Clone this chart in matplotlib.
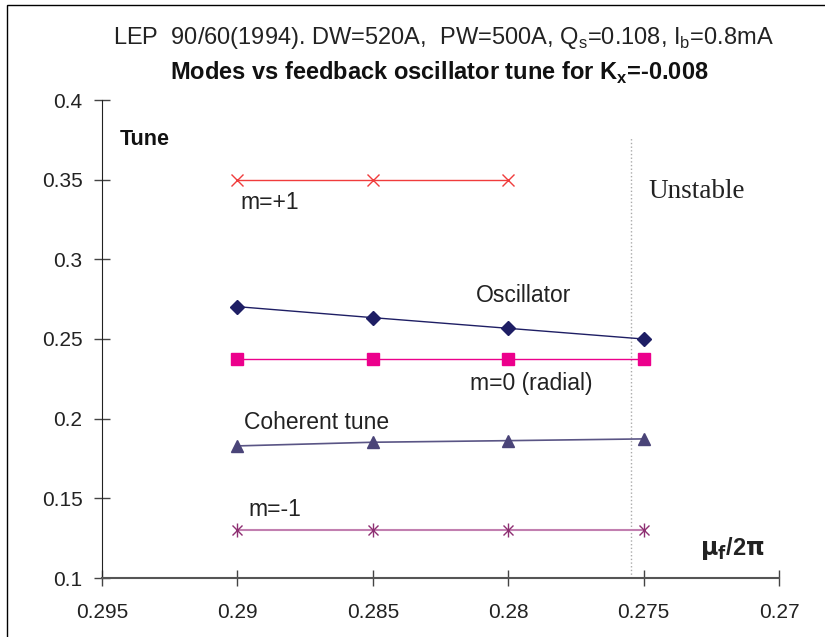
import matplotlib
matplotlib.use("Agg")
import matplotlib.pyplot as plt
from matplotlib.patches import Rectangle
from matplotlib.ticker import FuncFormatter

# ---- data ----
x_osc = [0.29, 0.285, 0.28, 0.275]
m_plus1_x = [0.29, 0.285, 0.28]
m_plus1 = [0.35, 0.35, 0.35]
oscillator = [0.2703, 0.2634, 0.2567, 0.2500]
m_zero = [0.2375, 0.2375, 0.2375, 0.2375]
coherent = [0.1829, 0.1852, 0.1862, 0.1873]
m_minus1 = [0.130, 0.130, 0.130, 0.130]
unstable_x = 0.27547
unstable_top = 0.377

x_ticks = [0.295, 0.29, 0.285, 0.28, 0.275, 0.27]
y_ticks = [0.1, 0.15, 0.2, 0.25, 0.3, 0.35, 0.4]

plt.rcParams['font.family'] = ['Liberation Sans', 'DejaVu Sans']

fig = plt.figure(figsize=(8.25, 6.37), dpi=100)
fig.patch.set_facecolor('white')
fig.patches.append(Rectangle((7/825, -0.1), 1.2, 0.1 + 1 - 5/637, transform=fig.transFigure,
                             fill=False, edgecolor='black', linewidth=1.0))

ax = fig.add_axes([102/825, 1 - 578/637, (779 - 102)/825, (578 - 100)/637])
ax.set_xlim(0.295, 0.27)
ax.set_ylim(0.1, 0.4)

# vertical dotted line (unstable boundary)
ax.plot([unstable_x, unstable_x], [0.1, unstable_top], color='#aaaaaa', linestyle=':', linewidth=1.0, zorder=1)

# series
ax.plot(m_plus1_x, m_plus1, color='#f03c3c', linewidth=1.0, marker='x', markersize=8, markeredgewidth=1.0, zorder=3)
ax.plot(x_osc, oscillator, color='#1e1e64', linewidth=1.0, marker='D', markersize=7, zorder=3)
ax.plot(x_osc, m_zero, color='#ec008c', linewidth=1.0, marker='s', markersize=8, zorder=3)
ax.plot(x_osc, coherent, color='#5a5585', linewidth=1.2, marker='^', markersize=9, markerfacecolor='#4a4478', markeredgecolor='#4a4478', zorder=3)
ax.plot(x_osc, m_minus1, color='#c27fb0', linewidth=1.5, zorder=2)
ax.plot(x_osc, m_minus1, linestyle='none', marker='x', markersize=7.5, markeredgewidth=1.0, color='#8e2f72', zorder=3)
ax.plot(x_osc, m_minus1, linestyle='none', marker='|', markersize=9.5, markeredgewidth=1.0, color='#8e2f72', zorder=3)

# spines & ticks
for s in ['top', 'right']:
    ax.spines[s].set_visible(False)
ax.spines['left'].set_color('#222222')
ax.spines['bottom'].set_color('#555555')
ax.spines['bottom'].set_linewidth(1.5)
ax.set_xticks(x_ticks)
ax.set_yticks(y_ticks)
fmt = FuncFormatter(lambda v, p: ('%g' % round(v, 4)))
ax.xaxis.set_major_formatter(fmt)
ax.yaxis.set_major_formatter(fmt)
ax.tick_params(axis='both', direction='inout', length=12, width=1.0, color='#444444',
               labelsize=15, labelcolor='#222222')
ax.tick_params(axis='x', pad=12)
ax.tick_params(axis='y', pad=8)

# titles
fig.text(443/825, 1 - 38/637, r'LEP  90/60(1994). DW=520A,  PW=500A, Q$_\mathregular{s}$=0.108, I$_\mathregular{b}$=0.8mA',
         ha='center', va='center', fontsize=17, color='#222222')
fig.text(439/825, 1 - 73/637, r'Modes vs feedback oscillator tune for K$_\mathregular{x}$=-0.008',
         ha='center', va='center', fontsize=17, fontweight='bold', color='#111111')

# annotations
tc = '#222222'
ax.text(0.29435, 0.3749, 'Tune', fontsize=15.5, fontweight='bold', ha='left', va='center', color='#111111')
ax.text(0.28988, 0.3354, 'm=+1', fontsize=16.5, ha='left', va='center', color=tc)
ax.text(0.27481, 0.3423, 'Unstable', fontsize=19.5, ha='left', va='center', color=tc, family='Liberation Serif')
ax.text(0.2812, 0.277, 'Oscillator', fontsize=16.5, ha='left', va='center', color=tc)
ax.text(0.28142, 0.2218, 'm=0 (radial)', fontsize=16.5, ha='left', va='center', color=tc)
ax.text(0.28977, 0.1973, 'Coherent tune', fontsize=16.5, ha='left', va='center', color=tc)
ax.text(0.28958, 0.1433, 'm=-1', fontsize=16.5, ha='left', va='center', color=tc)
ax.text(0.27293, 0.1188, r'$\mathbf{\mu}$$_{\mathbf{f}}$/2$\mathbf{\pi}$', fontsize=17, fontweight='bold',
        ha='left', va='center', color=tc)

fig.savefig('out.png', dpi=100, facecolor='white')
